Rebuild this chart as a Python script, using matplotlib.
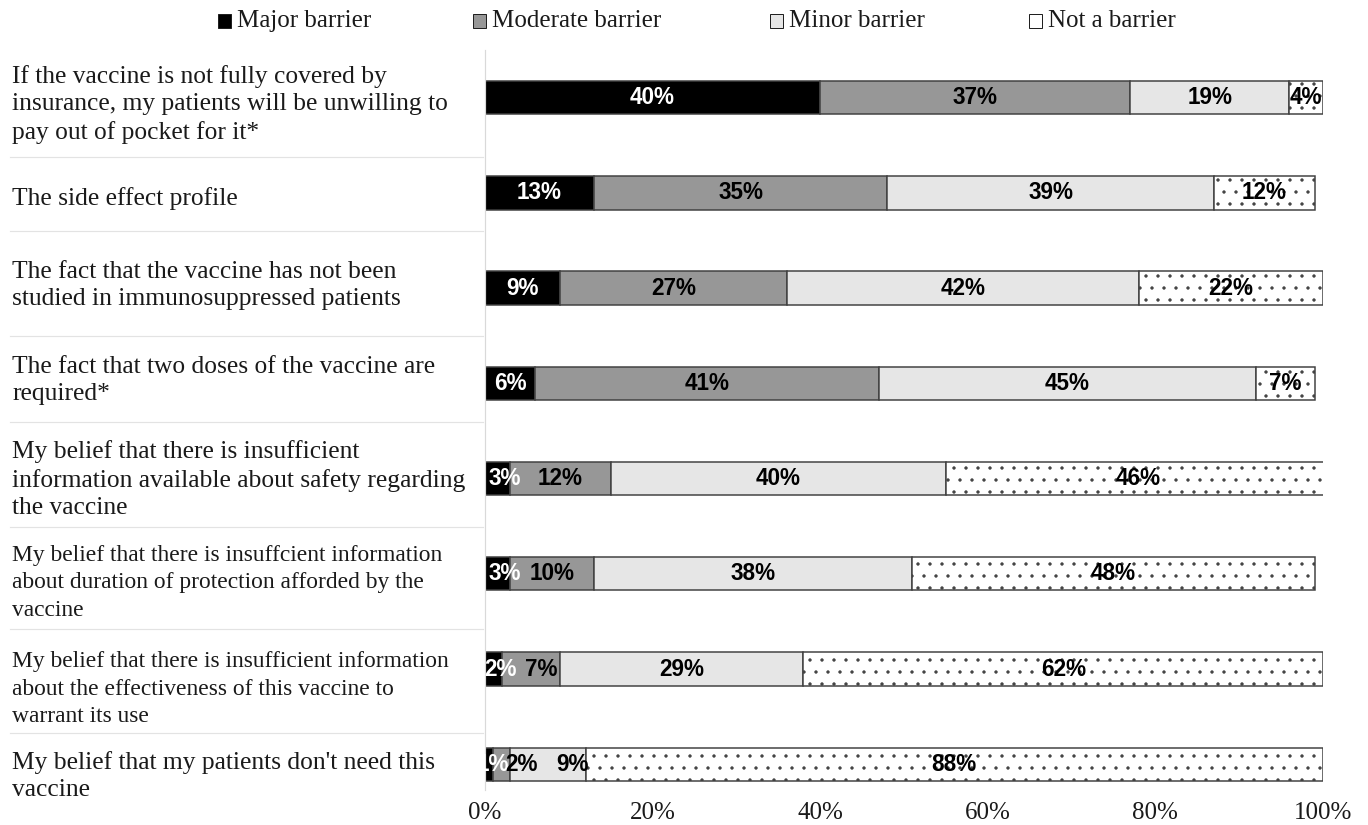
import numpy as np
import matplotlib
matplotlib.use("Agg")
import matplotlib.pyplot as plt
import matplotlib.transforms as mtransforms
from matplotlib.patches import Rectangle
from matplotlib.lines import Line2D

# data
statements = [
    "If the vaccine is not fully covered by\ninsurance, my patients will be unwilling to\npay out of pocket for it*",
    "The side effect profile",
    "The fact that the vaccine has not been\nstudied in immunosuppressed patients",
    "The fact that two doses of the vaccine are\nrequired*",
    "My belief that there is insufficient\ninformation available about safety regarding\nthe vaccine",
    "My belief that there is insuffcient information\nabout duration of protection afforded by the\nvaccine",
    "My belief that there is insufficient information\nabout the effectiveness of this vaccine to\nwarrant its use",
    "My belief that my patients don't need this\nvaccine",
]
series_names = ["Major barrier", "Moderate barrier", "Minor barrier", "Not a barrier"]
major = [40, 13, 9, 6, 3, 3, 2, 1]
moderate = [37, 35, 27, 41, 12, 10, 7, 2]
minor = [19, 39, 42, 45, 40, 38, 29, 9]
not_barrier = [4, 12, 22, 7, 46, 48, 62, 88]
xticks = [0, 20, 40, 60, 80, 100]

# styles
W, H = 1368, 825
DPI = 72
fills = ["#000000", "#979797", "#e6e6e6", "#ffffff"]
hatches = [None, None, None, "."]
text_colors = ["white", "black", "black", "black"]
edge = "#404040"
serif = "Liberation Serif"
sans = "Liberation Sans"

plt.rcParams["hatch.linewidth"] = 0.9

fig = plt.figure(figsize=(W / DPI, H / DPI), dpi=DPI)
ax_left, ax_right, ax_top, ax_bottom = 485, 1323, 50, 790
ax = fig.add_axes([ax_left / W, 1 - ax_bottom / H,
                   (ax_right - ax_left) / W, (ax_bottom - ax_top) / H])

series = [major, moderate, minor, not_barrier]
y = np.arange(len(statements))
left = np.zeros(len(statements))
# manual nudges for crowded labels (px): (row, series) -> dx
nudges = {(4, 0): 7, (5, 0): 7, (6, 0): 7, (7, 0): 4,
          (7, 1): 20, (7, 2): 25, (6, 1): 10}
for k, vals in enumerate(series):
    vals = np.array(vals, dtype=float)
    ax.barh(y, vals, left=left, height=0.35, color=fills[k], edgecolor=edge,
            linewidth=1.5, hatch=hatches[k], clip_on=True)
    for i, v in enumerate(vals):
        cx = left[i] + v / 2
        tr = mtransforms.offset_copy(ax.transData, fig=fig,
                                     x=nudges.get((i, k), 0), units="points")
        ax.text(cx, y[i], f"{int(v)}%", transform=tr, ha="center", va="center",
                fontsize=22.5, fontweight="bold", family=sans,
                color=text_colors[k], clip_on=False)
    left += vals

ax.set_xlim(0, 100)
ax.set_ylim(7.27, -0.5)
ax.set_yticks([])
ax.set_xticks(xticks)
ax.set_xticklabels([f"{t}%" for t in xticks], fontsize=25, family=serif,
                   color="#1a1a1a")
ax.tick_params(axis="x", length=0, pad=12)
for s in ["top", "right", "bottom"]:
    ax.spines[s].set_visible(False)
ax.spines["left"].set_color("#d9d9d9")
ax.spines["left"].set_linewidth(1.2)

# category labels
label_dy = [7, 6, -3, -3, 1, 9, 20, 12]
label_size = [25.5, 25.5, 25.5, 25.5, 25.5, 23.5, 23.5, 25.5]
blend = mtransforms.blended_transform_factory(fig.transFigure, ax.transData)
for i, s in enumerate(statements):
    tr = mtransforms.offset_copy(blend, fig=fig, y=-label_dy[i], units="points")
    ax.text(12 / W, y[i], s, transform=tr, ha="left", va="center",
            fontsize=label_size[i], family=serif, color="#1a1a1a",
            linespacing=1.3 * 25.5 / label_size[i])

# separators in label column
sep_y = [157, 231, 336, 422, 527, 629, 733]
for sy in sep_y:
    fig.add_artist(Line2D([10 / W, 483 / W], [1 - sy / H, 1 - sy / H],
                          color="#e3e3e3", linewidth=1.2))

# legend
leg_x = [218, 473, 770, 1029]
for k, name in enumerate(series_names):
    fig.add_artist(Rectangle((leg_x[k] / W, 1 - 28 / H), 13 / W, 14 / H,
                             transform=fig.transFigure, facecolor=fills[k],
                             edgecolor="#202020", linewidth=1.0))
    fig.text((leg_x[k] + 19) / W, 1 - 21 / H, name, ha="left", va="center",
             fontsize=25, family=serif, color="#1a1a1a")

fig.savefig("out.png", dpi=DPI)
